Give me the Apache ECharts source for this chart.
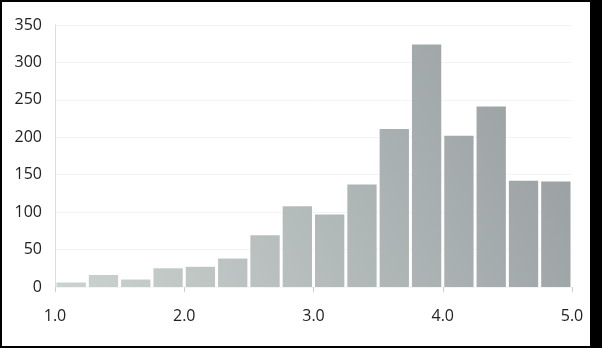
<!DOCTYPE html>
<html><head><meta charset="utf-8">
<script src="https://cdn.jsdelivr.net/npm/echarts@6/dist/echarts.min.js"></script>
<style>
html,body{margin:0;padding:0;background:#fff;}
#c{position:absolute;left:0;top:0;width:602px;height:348px;}
#b{position:absolute;left:0;top:0;width:602px;height:348px;box-sizing:border-box;border-top:2px solid #000;border-left:2px solid #000;border-bottom:2px solid #000;border-right:12px solid #000;pointer-events:none;}
</style></head>
<body><div id="c"></div><div id="b"></div>
<script>
const binStarts = [1.0,1.25,1.5,1.75,2.0,2.25,2.5,2.75,3.0,3.25,3.5,3.75,4.0,4.25,4.5,4.75];
const binWidth = 0.25;
const counts = [6,16,10,25,27,38,69,108,97,137,211,324,202,241,142,141];
const xTicks = [1.0,2.0,3.0,4.0,5.0];
const yTicks = [0,50,100,150,200,250,300,350];

const data = binStarts.map((s,i)=>[s, s+binWidth, counts[i]]);
const chart = echarts.init(document.getElementById('c'), null, {renderer:'canvas'});
chart.setOption({
  backgroundColor:'#fff',
  animation:false,
  grid:{left:55,right:30,top:25,bottom:61},
  xAxis:{type:'value',min:xTicks[0],max:xTicks[xTicks.length-1],interval:1,
    axisLine:{show:false},
    axisTick:{show:true,length:5,lineStyle:{color:'#cccccc'}},
    splitLine:{show:false},
    axisLabel:{margin:21,fontFamily:'Open Sans',fontSize:16,color:'#222',formatter:v=>v.toFixed(1)}},
  yAxis:{type:'value',min:yTicks[0],max:yTicks[yTicks.length-1],interval:50,
    axisLine:{show:true,lineStyle:{color:'#dddddd'}},
    axisTick:{show:false},
    splitLine:{show:true,lineStyle:{color:'#f4f4f4'}},
    axisLabel:{margin:13,fontFamily:'Open Sans',fontSize:16,color:'#222'}},
  series:[{
    type:'custom',
    data:data,
    renderItem:function(params,api){
      const p0 = api.coord([api.value(0),0]);
      const p1 = api.coord([api.value(1),api.value(2)]);
      const x = p0[0]+1.5, w = p1[0]-p0[0]-3;
      const o = api.coord([xTicks[0],yTicks[0]]);
      const e = api.coord([xTicks[xTicks.length-1],yTicks[yTicks.length-1]]);
      return {type:'rect',shape:{x:x,y:p1[1],width:w,height:p0[1]-p1[1]},
        style:{fill:new echarts.graphic.LinearGradient(o[0],o[1],e[0],e[1],[{offset:0,color:'#cbd3d0'},{offset:1,color:'#959b9e'}],true)}};
    },
    encode:{x:[0,1],y:2}
  }]
});
</script></body></html>
